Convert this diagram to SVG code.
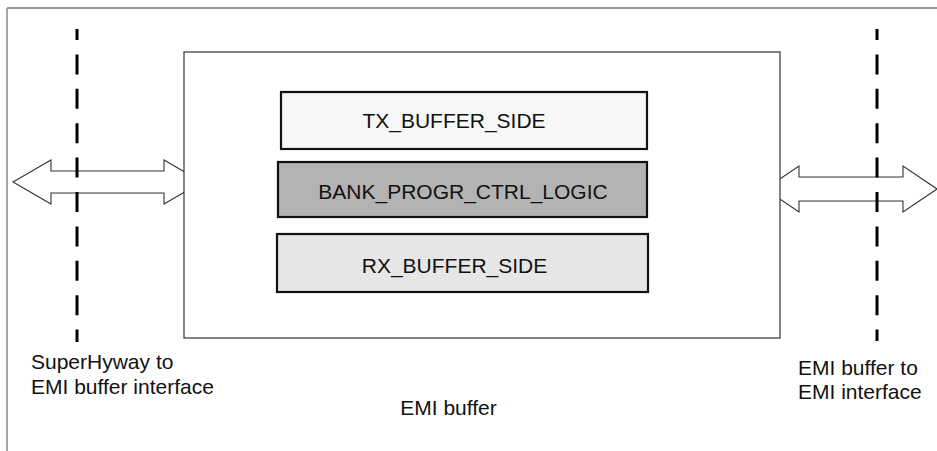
<svg xmlns="http://www.w3.org/2000/svg" width="937" height="451" viewBox="0 0 937 451">
<style>
text{font-family:"Liberation Sans",Arial,sans-serif;font-size:21px;fill:#111}
.blk{stroke:#111;stroke-width:2.2}
.arrow{fill:#fff;stroke:#333;stroke-width:1.1}
.dash{stroke:#000;stroke-width:3;stroke-dasharray:20 14.4;stroke-dashoffset:9;fill:none}
</style>
<rect width="937" height="451" fill="#fff"/>
<g id="frame">
<line x1="7" y1="8" x2="937" y2="8" stroke="#333" stroke-width="1.2"/>
<line x1="7" y1="8" x2="7" y2="451" stroke="#888" stroke-width="1.5"/>
</g>
<g id="connectors">
<polygon class="arrow" points="13,182 51,160 51,171 164,171 164,160 202,182 164,204 164,193 51,193 51,204"/>
<polygon class="arrow" points="765,189 799,166 799,177 903,177 903,166 937,189 903,212 903,201 799,201 799,212"/>
</g>
<g id="emi-buffer">
<rect x="184" y="52" width="596" height="286" fill="#fff" stroke="#333" stroke-width="1.2"/>
<text x="448.5" y="415" text-anchor="middle">EMI buffer</text>
</g>
<g id="tx-buffer-side">
<rect class="blk" x="281" y="92" width="366" height="57" fill="#f7f7f7"/>
<text x="454" y="128" text-anchor="middle">TX_BUFFER_SIDE</text>
</g>
<g id="bank-progr-ctrl-logic">
<rect class="blk" x="278" y="162" width="369" height="55" fill="#b3b3b3"/>
<text x="463" y="199" text-anchor="middle">BANK_PROGR_CTRL_LOGIC</text>
</g>
<g id="rx-buffer-side">
<rect class="blk" x="277" y="234" width="371" height="58" fill="#e6e6e6"/>
<text x="454.5" y="273" text-anchor="middle">RX_BUFFER_SIDE</text>
</g>
<g id="left-interface">
<line class="dash" x1="77" y1="29" x2="77" y2="342"/>
<text x="31" y="369">SuperHyway to</text>
<text x="31" y="394">EMI buffer interface</text>
</g>
<g id="right-interface">
<line class="dash" x1="877" y1="29" x2="877" y2="341"/>
<text x="798" y="375">EMI buffer to</text>
<text x="798" y="399">EMI interface</text>
</g>
</svg>
